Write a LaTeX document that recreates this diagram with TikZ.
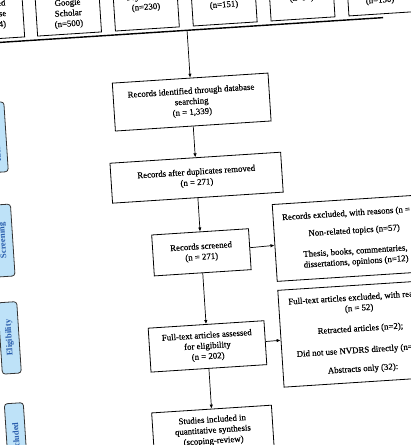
\documentclass[tikz,border=0pt]{standalone}
\usepackage{fontspec}
\setmainfont{Liberation Serif}[UprightFeatures={FakeBold=0.35}]
\usetikzlibrary{positioning,arrows.meta}

\definecolor{phasefill}{RGB}{190,226,248}
\definecolor{phasetext}{RGB}{40,92,172}

\begin{document}
\begin{tikzpicture}[
  x=1pt, y=1pt, >={Latex[length=4pt,width=3.4pt]},
  font=\fontsize{8.8}{10.6}\selectfont,
  box/.style={draw, line width=0.8pt, align=center, inner sep=3pt},
  flow/.style={box, minimum height=40pt},
  dbbox/.style={box, anchor=south, minimum width=64pt},
  excl/.style={box, minimum width=160pt},
  phase/.style={draw=black!80, fill=phasefill, text=phasetext, rounded corners=3pt, line width=0.8pt,
                rotate=90, minimum height=19pt, inner sep=2pt, font=\fontsize{8.6}{10}\selectfont\bfseries},
  link/.style={->, line width=0.7pt},
]
\useasboundingbox (0,-445) rectangle (411,0);
\fill[white] (0,-445) rectangle (411,0);
\clip (0,-445) rectangle (411,0);
\begin{scope}[rotate around={3.7:(205.5,-222.5)}, transform shape]
% ---- databases (top row) ----
\node[dbbox, inner ysep=9.6pt] (db1) at (5,-26) {PubMed\\database\\(n=254)};
\node[dbbox, inner ysep=5.7pt] (db2) at (82,-26) {Google\\Scholar\\(n=500)};
\node[dbbox, inner ysep=17.4pt] (db3) at (160,-26) {PsycINFO\\(n=230)};
\node[dbbox, inner ysep=14.8pt] (db4) at (238,-26) {Scopus\\(n=151)};
\node[dbbox, inner ysep=16.7pt] (db5) at (316,-26) {Web of Science\\(n=54)};
\node[dbbox, inner ysep=9.4pt] (db6) at (394,-26) {CINAHL\\(n=150)};
\coordinate (barL) at (-40,-29.5);
\coordinate (barR) at (396,-29.5);
\coordinate (barM) at (199.5,-29.5);
\draw[line width=1.4pt] (barL) -- (barR);
% ---- main column ----
\node[flow, minimum width=156pt, minimum height=48pt] (ident) at (199.5,-101.4)
  {Records identified through database\\searching\\(n = 1,339)};
\node[flow, minimum width=171pt, below=31pt of ident] (dedup)
  {Records after duplicates removed\\(n = 271)};
\node[flow, minimum width=97pt, minimum height=41pt, below=33.5pt of dedup] (screen)
  {Records screened\\(n = 271)};
\node[flow, minimum width=116pt, minimum height=44pt, below=51pt of screen] (assess)
  {Full-text articles assessed\\for eligibility\\(n = 202)};
\node[flow, minimum width=120pt, minimum height=54pt, below=40pt of assess] (incl)
  {Studies included in\\quantitative synthesis\\(scoping-review)\\(n = 150)};
% ---- exclusions (right) ----
\node[excl, minimum height=77pt, right=24.5pt of screen.east, yshift=4.6pt] (exscreen)
  {Records excluded, with reasons (n = 69)\\[7pt]
   Non-related topics (n=57)\\[10pt]
   Thesis, books, commentaries,\\dissertations, opinions (n=12)};
\node[excl, minimum height=97pt, right=15pt of assess.east, yshift=2.9pt] (exfull)
  {Full-text articles excluded, with reasons\\(n = 52)\\[10pt]
   Retracted articles (n=2);\\[11pt]
   Did not use NVDRS directly (n=18);\\[8pt]
   Abstracts only (32):};
% ---- arrows ----
\draw[link] (barM) -- (ident);
\draw[link] (ident) -- (dedup);
\draw[link] (dedup) -- (screen);
\draw[link] (screen) -- (assess);
\draw[link] (assess) -- (incl);
\draw[link] (screen) -- (exscreen);
\draw[link] (assess) -- (exfull);
% ---- phase labels (left) ----
\node[phase, minimum width=70pt] (idlab) at (2.5,-124) {Identification};
\node[phase, minimum width=72pt] (scrlab) at (2.5,-227.5) {Screening};
\node[phase, minimum width=71.5pt] (elilab) at (2.5,-325) {Eligibility};
\node[phase, minimum width=71pt] (inclab) at (2.5,-426) {Included};
\end{scope}
\end{tikzpicture}
\end{document}
